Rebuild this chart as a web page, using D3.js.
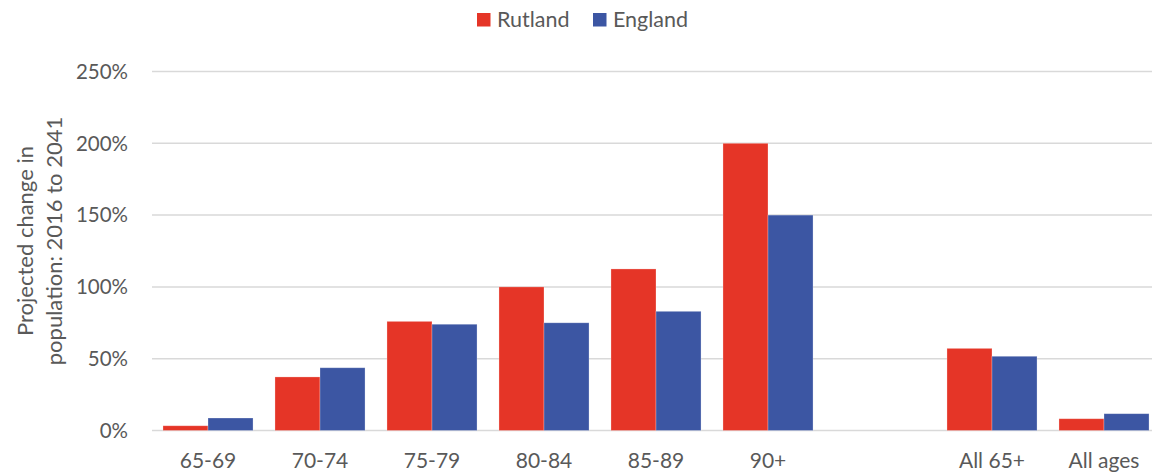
<!DOCTYPE html>
<meta charset="utf-8">
<script src="https://d3js.org/d3.v7.min.js"></script>
<style>
  html, body { margin: 0; background: #fff; overflow: hidden; }
  svg { display: block; }
  text { font-family: Lato, "Open Sans", sans-serif; fill: #595959; }
</style>
<svg id="chart" width="1152" height="473"></svg>
<script>

// data
var categories = ["65-69", "70-74", "75-79", "80-84", "85-89", "90+", "", "All 65+", "All ages"];
var rutland = [3.3, 37.3, 76, 100, 112.5, 200, null, 57.2, 8.2];
var england = [8.7, 43.7, 74, 75, 83, 150, null, 51.7, 11.7];
var seriesNames = ["Rutland", "England"];
var seriesColors = ["#E53527", "#3C56A3"];
var yTicks = [0, 50, 100, 150, 200, 250];

var svg = d3.select("#chart");

var margin = {left: 152, right: 1160, top: 71.5, bottom: 430.5};

var x = d3.scaleBand()
    .domain(d3.range(categories.length))
    .range([margin.left, margin.right])
    .paddingInner(0.196)
    .paddingOuter(0.098);

var xs = d3.scaleBand()
    .domain([0, 1])
    .range([0, x.bandwidth()]);

var y = d3.scaleLinear()
    .domain([0, 250])
    .range([margin.bottom, margin.top]);

// gridlines
svg.append("g")
  .selectAll("line")
  .data(yTicks)
  .enter().append("line")
    .attr("x1", margin.left)
    .attr("x2", margin.right)
    .attr("y1", function(d){ return y(d); })
    .attr("y2", function(d){ return y(d); })
    .style("stroke", "#d9d9d9")
    .style("stroke-width", 1.5);

// y tick labels
svg.append("g")
  .selectAll("text")
  .data(yTicks)
  .enter().append("text")
    .attr("x", 128)
    .attr("y", function(d){ return y(d); })
    .attr("dy", "0.36em")
    .attr("text-anchor", "end")
    .style("font-size", "20.5px")
    .text(function(d){ return d + "%"; });

// bars
var series = [rutland, england];
series.forEach(function(vals, s){
  svg.append("g")
    .selectAll("rect")
    .data(vals.map(function(v, i){ return {i: i, v: v}; }).filter(function(d){ return d.v !== null; }))
    .enter().append("rect")
      .attr("x", function(d){ return x(d.i) + xs(s); })
      .attr("width", xs.bandwidth())
      .attr("y", function(d){ return y(d.v); })
      .attr("height", function(d){ return y(0) - y(d.v); })
      .style("fill", seriesColors[s])
      .style("stroke", "#ffffff")
      .style("stroke-opacity", 0.35)
      .style("stroke-width", 0.75);
});

// x labels
svg.append("g")
  .selectAll("text")
  .data(categories)
  .enter().append("text")
    .attr("x", function(d, i){ return x(i) + x.bandwidth() / 2; })
    .attr("y", 468)
    .attr("text-anchor", "middle")
    .style("font-size", "21px")
    .text(function(d){ return d; });

// y axis title
var title = svg.append("text")
    .attr("transform", "translate(0,241) rotate(-90)")
    .attr("text-anchor", "middle")
    .style("font-size", "22px");
title.append("tspan").attr("x", 0).attr("y", 33).text("Projected change in");
title.append("tspan").attr("x", 0).attr("y", 62).text("population: 2016 to 2041");

// legend
var legendX = [477, 593];
seriesNames.forEach(function(name, s){
  var g = svg.append("g").attr("transform", "translate(" + legendX[s] + ",13)");
  g.append("rect")
    .attr("width", 13.5)
    .attr("height", 13.5)
    .style("fill", seriesColors[s]);
  g.append("text")
    .attr("x", 20)
    .attr("y", 13.7)
    .style("font-size", "21.5px")
    .text(name);
});

</script>
